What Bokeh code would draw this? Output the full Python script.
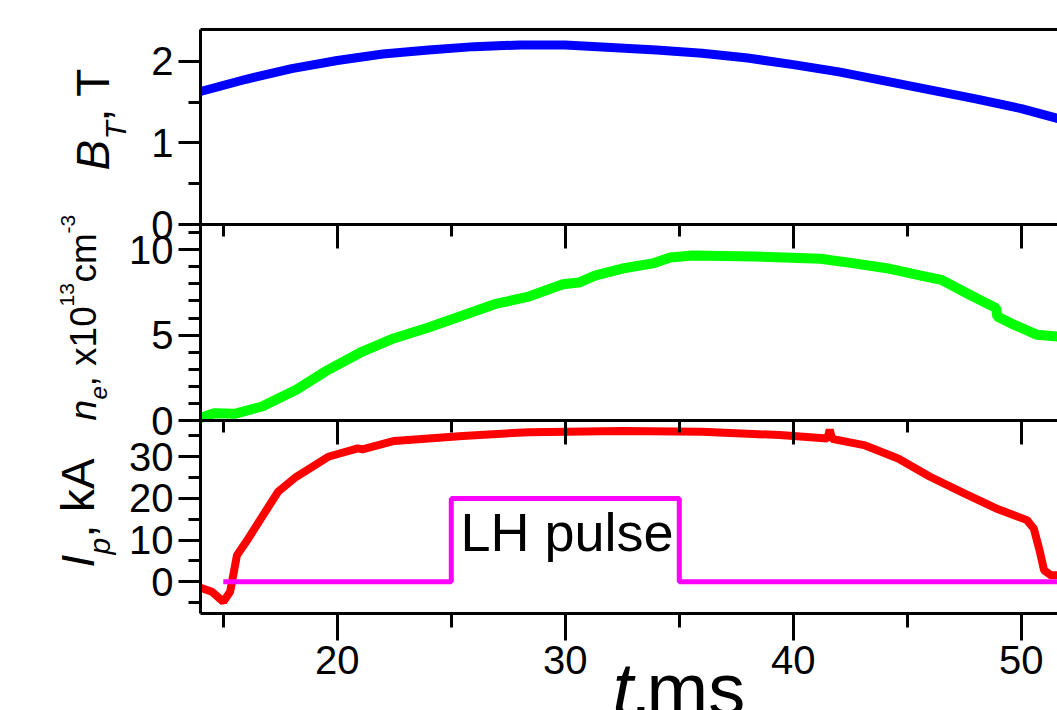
import math
from bokeh.plotting import figure
from bokeh.models import (Range1d, LinearAxis, FixedTicker, CustomJSTickFormatter, Label)
from bokeh.embed import file_html
from bokeh.resources import INLINE

# ---------------- data ----------------
t_B = [14, 16, 18, 20, 22, 24, 26, 28, 30, 32, 34, 36, 38, 40, 42, 44, 46, 48, 50, 52]
B_T = [1.63, 1.78, 1.91, 2.01, 2.09, 2.14, 2.18, 2.20, 2.20, 2.17, 2.14, 2.10, 2.04,
       1.96, 1.87, 1.76, 1.65, 1.54, 1.42, 1.27]

t_n = [14.0, 14.6, 15.5, 16.7, 18.2, 19.6, 21.1, 22.5, 24.0, 25.5, 26.9, 28.4, 29.9,
       30.6, 31.3, 32.5, 33.9, 34.6, 35.6, 38.3, 41.2, 42.6, 44.1, 45.6, 46.5, 47.8,
       48.9, 48.95, 49.7, 50.7, 51.6]
n_e = [0.15, 0.43, 0.39, 0.82, 1.80, 2.97, 4.04, 4.82, 5.45, 6.15, 6.81, 7.26, 7.98,
       8.08, 8.49, 8.90, 9.22, 9.55, 9.67, 9.61, 9.47, 9.22, 8.92, 8.49, 8.24, 7.32,
       6.58, 6.09, 5.60, 5.02, 4.92]

t_I = [14.0, 14.5, 15.0, 15.3, 15.6, 16.1, 16.7, 17.4, 18.2, 19.6, 20.9, 21.1, 22.5,
       25.5, 28.4, 32.5, 36.0, 39.4, 41.5, 41.6, 41.7, 43.1, 44.6, 46.0, 47.5, 48.9,
       50.25, 50.55, 50.8, 51.0, 51.3, 51.6]
I_p = [-1.4, -2.4, -4.8, -2.4, 6.4, 10.4, 15.6, 21.6, 25.2, 30.0, 32.0, 31.8, 33.8,
       35.0, 35.9, 36.2, 36.0, 35.2, 34.4, 36.5, 34.3, 32.8, 29.6, 25.2, 21.2, 17.6,
       14.8, 12.8, 7.6, 2.8, 1.6, 1.6]

t_LH = [15, 25, 25, 35, 35, 52]
LH = [0, 0, 20, 20, 0, 0]

x_major = [20, 30, 40, 50]
x_minor = [15, 25, 35, 45]
B_major, B_minor = [0, 1, 2], [0.5, 1.5]
n_major, n_minor = [0, 5, 10], [1, 2, 3, 4, 6, 7, 8, 9, 11]
I_major, I_minor = [0, 10, 20, 30], [-5, 5, 15, 25, 35]

# ---------------- layout constants (pixels) ----------------
W, H = 1057, 710
FONT = "Liberation Sans"
L, R, TOP, BOT = 200, 1057, 29, 613          # drawing box of the panels
B1, B2 = 224, 420                            # panel boundaries
X0, X1 = 14, 51.59                           # time span of the panels
MS = (R - L) / (X1 - X0)                     # pixels per ms
BASE = 0.38                                  # baseline correction (fraction of font size)


def tx(px):
    return X0 + (px - L) / MS


# the frame covers the whole canvas so that nothing is clipped
p = figure(width=W, height=H, x_range=Range1d(tx(0), tx(W)), y_range=Range1d(H, 0),
           output_backend="svg", toolbar_location=None, title=None,
           x_axis_location=None, y_axis_location=None,
           min_border_left=0, min_border_right=0, min_border_top=0, min_border_bottom=0)
p.outline_line_color = None
p.grid.visible = False


def panel_range(d0, d1, top_px, bot_px):
    s = (bot_px - top_px) / (d1 - d0)
    return Range1d(d0 - (H - bot_px) / s, d1 + top_px / s)


p.extra_y_ranges = {
    "B": panel_range(0, 2.39, TOP, B1),
    "n": panel_range(0, 11.48, B1, B2),
    "I": panel_range(-7.6, 38.7, B2, BOT),
}


def style_axis(ax, size="40px"):
    ax.axis_line_width = 3
    ax.major_tick_line_width = 3
    ax.minor_tick_line_width = 3
    ax.axis_line_color = "black"
    ax.major_tick_line_color = "black"
    ax.minor_tick_line_color = "black"
    ax.major_label_text_font = FONT
    ax.major_label_text_font_size = size
    ax.major_label_text_color = "black"


def left_axis(name, bounds, major, minor):
    ax = LinearAxis(y_range_name=name, fixed_location=X0, bounds=bounds,
                    ticker=FixedTicker(ticks=major, minor_ticks=minor))
    style_axis(ax)
    ax.major_tick_out, ax.major_tick_in = 22, 0
    ax.minor_tick_out, ax.minor_tick_in = 12, 0
    ax.major_label_standoff = 5
    p.add_layout(ax, "left")


def top_axis(loc, ticks=True):
    ax = LinearAxis(fixed_location=loc, bounds=(X0, X1 + 5),
                    ticker=FixedTicker(ticks=x_major, minor_ticks=x_minor),
                    formatter=CustomJSTickFormatter(code="return ''"))
    style_axis(ax, "0px")
    if ticks:
        ax.major_tick_out, ax.major_tick_in = 0, 24
        ax.minor_tick_out, ax.minor_tick_in = 0, 12
    else:
        ax.major_tick_out = ax.major_tick_in = 0
        ax.minor_tick_out = ax.minor_tick_in = 0
    ax.major_label_standoff = 0
    p.add_layout(ax, "above")


left_axis("B", (0, 2.39), B_major, B_minor)
left_axis("n", (0, 11.48), n_major, n_minor)
left_axis("I", (-7.6, 38.7), I_major, I_minor)
top_axis(TOP, ticks=False)
top_axis(B1)
top_axis(B2)

bx = LinearAxis(fixed_location=BOT, bounds=(X0, X1 + 5),
                ticker=FixedTicker(ticks=x_major, minor_ticks=x_minor))
style_axis(bx)
bx.major_tick_out, bx.major_tick_in = 27, 0
bx.minor_tick_out, bx.minor_tick_in = 14, 0
bx.major_label_standoff = 5
p.add_layout(bx, "below")

p.line(t_B, B_T, y_range_name="B", line_color="#0000FF", line_width=9)
p.line(t_n, n_e, y_range_name="n", line_color="#00FF00", line_width=10)
p.line(t_I, I_p, y_range_name="I", line_color="#FF0000", line_width=8)
p.line(t_LH, LH, y_range_name="I", line_color="#FF00FF", line_width=5)


def lab(px, py, text, size, style="normal", rotated=True):
    # (px, py) = start of the baseline in canvas pixels
    if rotated:
        px -= BASE * size
    else:
        py -= BASE * size
    p.add_layout(Label(x=tx(px), y=py, text=text,
                       angle=math.pi / 2 if rotated else 0, text_font=FONT,
                       text_font_size=f"{size}px", text_font_style=style,
                       text_color="black", text_align="left",
                       text_baseline="alphabetic"))


lab(460, 552, "LH pulse", 54, rotated=False)
# B_T, T
lab(110, 170, "B", 46, "italic")
lab(126, 139, "T", 30, "italic")
lab(110, 121, ", T", 46)
# n_e, x10^13 cm^-3
lab(97, 420, "n", 37, "italic")
lab(107, 399, "e", 24, "italic")
lab(97, 386, ", x10", 37)
lab(74, 306, "13", 21)
lab(97, 282, "cm", 37)
lab(75, 233, "-3", 21)
# I_p, kA
lab(95, 567, "I", 46, "italic")
lab(110, 554, "p", 30, "italic")
lab(95, 537, ", kA", 46)
# t, ms
lab(612, 717, "t", 74, "italic", rotated=False)
lab(630, 717, ",", 74, rotated=False)
lab(646, 717, "ms", 74, rotated=False)

open("out.html", "w").write(file_html(p, INLINE))
